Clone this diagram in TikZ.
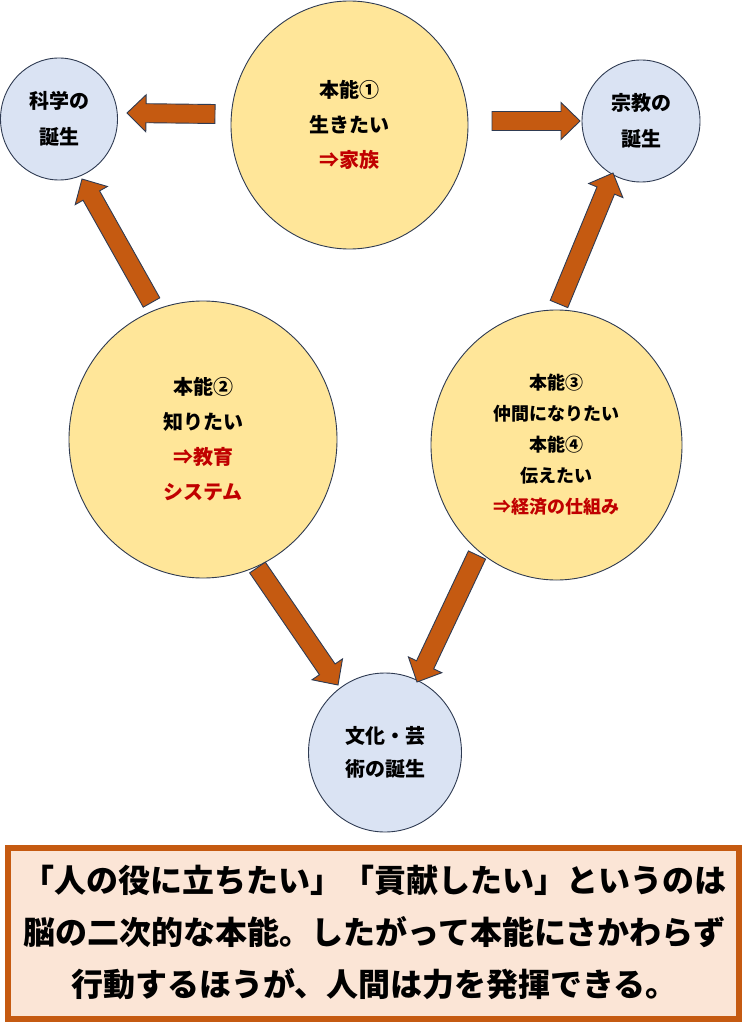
\documentclass[tikz,border=0pt]{standalone}
\usepackage{fontspec}
\setmainfont{Noto Sans CJK JP}
\usetikzlibrary{shapes.geometric,calc}
\definecolor{arrfill}{HTML}{C55A11}
\definecolor{outl}{HTML}{2F3B52}
\definecolor{yel}{HTML}{FFE699}
\definecolor{blu}{HTML}{DAE3F3}
\definecolor{peach}{HTML}{FBE5D6}
\definecolor{redtxt}{HTML}{C00000}
\newcommand\barrow[2]{%
  \coordinate (hb) at ($(#2)!19pt!(#1)$);
  \draw[arr] ($(#1)!9.5pt!90:(#2)$)
    -- ($(hb)!9.5pt!90:(#2)$)
    -- ($(hb)!18.5pt!90:(#2)$)
    -- (#2)
    -- ($(hb)!18.5pt!-90:(#2)$)
    -- ($(hb)!9.5pt!-90:(#2)$)
    -- ($(#1)!9.5pt!-90:(#2)$) -- cycle;}
\begin{document}
\begin{tikzpicture}[x=1pt,y=-1pt,
  instinct/.style={ellipse, draw=outl, line width=0.9pt, fill=yel, align=center, inner sep=0pt},
  birth/.style={ellipse, draw=outl, line width=0.9pt, fill=blu, align=center, inner sep=0pt},
  arr/.style={draw=outl, line width=0.9pt, fill=arrfill, line join=miter},
  big/.style={font=\bfseries\fontsize{20}{35}\selectfont},
  small/.style={font=\bfseries\fontsize{18}{31}\selectfont},
  note/.style={draw=arrfill, line width=5.5pt, fill=peach}]
\useasboundingbox (0,0) rectangle (746,1024);
% ellipses
\node[instinct, big, minimum width=237pt, minimum height=248pt] (i1) at (349.5,125)
  {本能①\\生きたい\\\textcolor{redtxt}{⇒家族}};
\node[birth, font=\bfseries\fontsize{20}{36}\selectfont, minimum width=117pt, minimum height=122pt] (sci) at (59,119)
  {科学の\\誕生};
\node[birth, font=\bfseries\fontsize{20}{36}\selectfont, minimum width=118pt, minimum height=122pt] (rel) at (641,121)
  {宗教の\\誕生};
\node[instinct, big, minimum width=268pt, minimum height=277pt] (i2) at (203,439.5)
  {本能②\\知りたい\\\textcolor{redtxt}{⇒教育}\\\textcolor{redtxt}{システム}};
\node[instinct, small, minimum width=251pt, minimum height=270pt] (i3) at (556.5,445)
  {本能③\\仲間になりたい\\本能④\\伝えたい\\\textcolor{redtxt}{⇒経済の仕組み}};
\node[birth, font=\bfseries\fontsize{20}{33}\selectfont, minimum width=153pt, minimum height=159pt] (cul) at (385,752.5)
  {文化・芸\\術の誕生};
% arrow end points
\coordinate (a1s) at (215,114);   \coordinate (a1e) at (127,113);
\coordinate (a2s) at (492,121);   \coordinate (a2e) at (580,121);
\coordinate (a3s) at (151.5,302.5); \coordinate (a3e) at (82,179);
\coordinate (a4s) at (559,304);   \coordinate (a4e) at (613,173);
\coordinate (a5s) at (257.5,567.5); \coordinate (a5e) at (338,685);
\coordinate (a6s) at (477,555);   \coordinate (a6e) at (417,682);
\barrow{a1s}{a1e}
\barrow{a2s}{a2e}
\barrow{a3s}{a3e}
\barrow{a4s}{a4e}
\barrow{a5s}{a5e}
\barrow{a6s}{a6e}
% bottom note
\draw[note] (8,848) rectangle (739,1019);
\node[align=center, font=\bfseries\fontsize{32}{52}\selectfont, inner sep=0pt] (txt) at (374.5,932)
  {「人の役に立ちたい」「貢献したい」というのは\\脳の二次的な本能。したがって本能にさかわらず\\行動するほうが、人間は力を発揮できる。};
\end{tikzpicture}
\end{document}
